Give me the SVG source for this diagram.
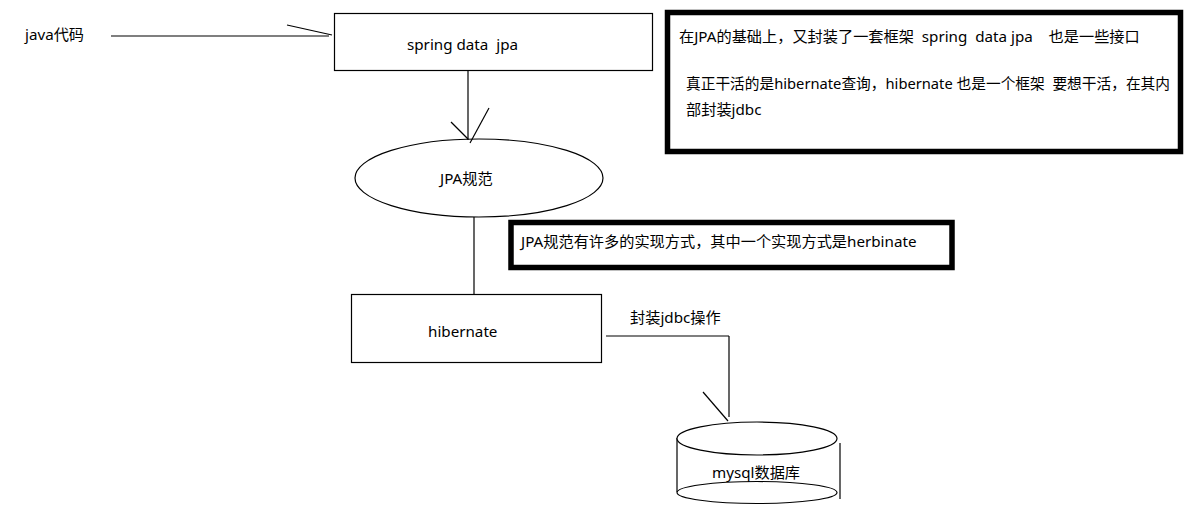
<svg xmlns="http://www.w3.org/2000/svg" width="1188" height="515" viewBox="0 0 1188 515">
<style>
text{font-family:"Noto Sans","Noto Sans CJK SC",sans-serif;font-size:15.2px;fill:#000;white-space:pre}
.s{fill:#fff;stroke:#000;stroke-width:1.2}
.t{fill:#fff;stroke:#000;stroke-width:5.5}
.c{fill:none;stroke:#000;stroke-width:1.2}
</style>
<rect width="1188" height="515" fill="#fff"/>
<g id="java"><text x="25" y="40">java代码</text></g>
<g id="springdatajpa"><rect class="s" x="334.5" y="13.5" width="318" height="57"/><text x="407" y="50" xml:space="preserve">spring data  jpa</text></g>
<g id="jpa"><ellipse class="s" cx="479" cy="178" rx="124" ry="39"/><text x="440" y="184">JPA规范</text></g>
<g id="hibernate"><rect class="s" x="351.5" y="294.5" width="250" height="68"/><text x="428" y="337">hibernate</text></g>
<g id="mysql">
<ellipse class="s" cx="757" cy="492.5" rx="80" ry="11"/>
<line class="c" x1="677" y1="438" x2="677" y2="492"/>
<line class="c" x1="840" y1="443" x2="840" y2="499"/>
<ellipse class="s" cx="757" cy="438.5" rx="80" ry="16.5"/>
<text x="712" y="478">mysql数据库</text>
</g>
<g id="note1"><rect class="t" x="667.5" y="12.5" width="513" height="139"/>
<text x="679" y="42" xml:space="preserve">在JPA的基础上，又封装了一套框架  spring  data jpa    也是一些接口</text>
<text x="686" y="89" xml:space="preserve" textLength="484" lengthAdjust="spacingAndGlyphs">真正干活的是hibernate查询，hibernate 也是一个框架  要想干活，在其内</text>
<text x="686" y="115">部封装jdbc</text>
</g>
<g id="note2"><rect class="t" x="511" y="222.5" width="441" height="45"/>
<text x="521" y="247">JPA规范有许多的实现方式，其中一个实现方式是herbinate</text>
</g>
<g id="label"><text x="630" y="323">封装jdbc操作</text></g>
<g id="connectors">
<line class="c" x1="111" y1="36" x2="329" y2="36"/>
<line class="c" x1="287" y1="25" x2="332" y2="35"/>
<line class="c" x1="468" y1="71" x2="468" y2="140"/>
<line class="c" x1="451" y1="122" x2="468" y2="139"/>
<line class="c" x1="489" y1="108" x2="470" y2="143"/>
<line class="c" x1="474" y1="217" x2="474" y2="295"/>
<line class="c" x1="606" y1="336" x2="729" y2="336"/>
<line class="c" x1="729" y1="336" x2="729" y2="417"/>
<line class="c" x1="703" y1="392" x2="728" y2="421"/>
</g>
</svg>
